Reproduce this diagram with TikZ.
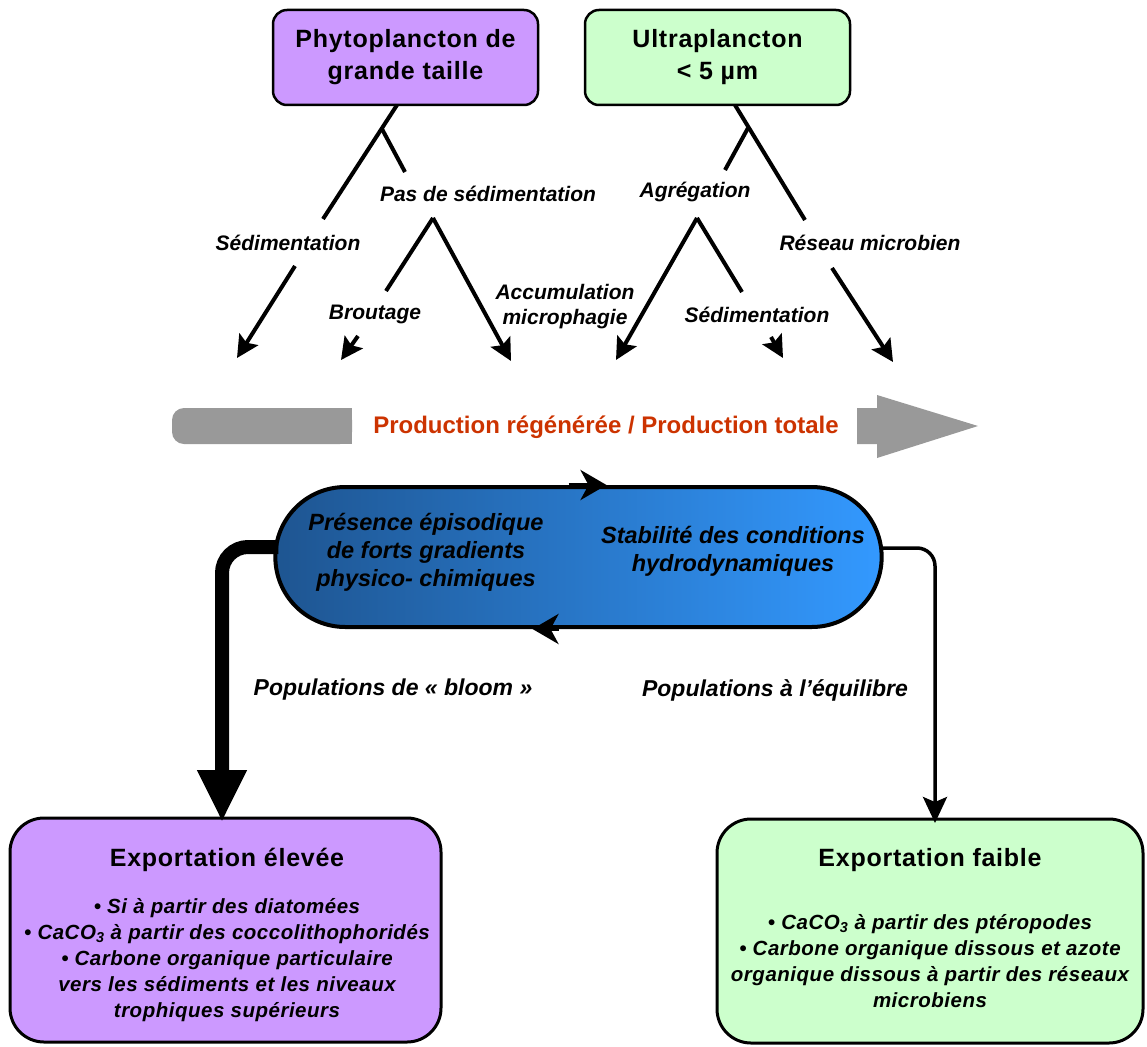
\documentclass[tikz,border=0pt]{standalone}
\usepackage{fontspec}
\setmainfont{Liberation Sans}
\usetikzlibrary{arrows.meta,shapes.misc,calc}
\definecolor{purp}{RGB}{204,153,255}
\definecolor{lgreen}{RGB}{204,255,204}
\definecolor{prodred}{RGB}{204,51,0}
\definecolor{bargray}{RGB}{153,153,153}
\definecolor{pillL}{RGB}{30,85,145}
\definecolor{pillR}{RGB}{51,153,255}
\begin{document}
\begin{tikzpicture}[x=1pt,y=-1pt,
  topbox/.style={draw=black, line width=2.5pt, rounded corners=14pt, minimum width=265pt, minimum height=95pt, align=center, font=\fontsize{25}{32}\selectfont\bfseries\addfontfeature{LetterSpace=3}},
  botbox/.style={draw=black, line width=3pt, rounded corners=34pt, minimum width=431pt, minimum height=224pt},
  lbl/.style={font=\fontsize{21}{25}\selectfont\bfseries\itshape, align=center, inner sep=0pt},
  poplbl/.style={font=\fontsize{23}{28}\selectfont\bfseries\itshape, inner sep=0pt},
  pilltxt/.style={font=\fontsize{23.5}{28}\selectfont\bfseries\itshape, align=center, inner sep=0pt},
  boxtitle/.style={font=\fontsize{25}{30}\selectfont\bfseries\addfontfeature{LetterSpace=3}, inner sep=0pt},
  bullets/.style={font=\fontsize{20.5}{26}\selectfont\bfseries\itshape\addfontfeature{LetterSpace=2.5}, align=center, inner sep=0pt},
  flow/.style={line width=4pt},
  flowarr/.style={line width=4pt, -{Stealth[length=22pt,width=22pt,inset=4pt]}},
  pillarr/.style={line width=4pt, -{Stealth[length=26pt,width=30pt,inset=8pt]}}
]
\useasboundingbox (0,0) rectangle (1147,1046);

% top boxes
\node[topbox, fill=purp] (phyto) at (405.5,57.5) {Phytoplancton de\\grande taille};
\node[topbox, fill=lgreen] (ultra) at (717.5,57.5) {Ultraplancton\\< 5 µm};

% labels
\node[lbl] (sedL) at (288,243) {Sédimentation};
\node[lbl] (pas) at (488,194) {Pas de sédimentation};
\node[lbl] (brout) at (375,314) {Broutage};
\node[lbl] (accu) at (565,307) {Accumulation\\microphagie};
\node[lbl] (agr) at (695,192) {Agrégation};
\node[lbl] (sedR) at (757,315) {Sédimentation};
\node[lbl] (reseau) at (870,243) {Réseau microbien};

% coordinates
\coordinate (a0) at (397,105);
\coordinate (a1) at (323,219);
\coordinate (a2) at (295,266);
\coordinate (a3) at (237,358);
\coordinate (ab) at (382,129);
\coordinate (ab2) at (405,172);
\coordinate (b0) at (433,218);
\coordinate (b1) at (386,291);
\coordinate (b2) at (358,336);
\coordinate (b3) at (341,360);
\coordinate (b4) at (511,361);
\coordinate (c0) at (735,105);
\coordinate (c1) at (805,220);
\coordinate (c2) at (832,268);
\coordinate (c3) at (893,362);
\coordinate (cb) at (748,128);
\coordinate (cb2) at (725,170);
\coordinate (d0) at (697,218);
\coordinate (d1) at (616,360);
\coordinate (d2) at (742,292);
\coordinate (d3) at (771,337);
\coordinate (d4) at (783,358);

% left tree
\draw[flow] (a0) -- (a1);
\draw[flowarr] (a2) -- (a3);
\draw[flow] (ab) -- (ab2);
\draw[flow] (b0) -- (b1);
\draw[flowarr] (b2) -- (b3);
\draw[flowarr] (b0) -- (b4);
% right tree
\draw[flow] (c0) -- (c1);
\draw[flowarr] (c2) -- (c3);
\draw[flow] (cb) -- (cb2);
\draw[flowarr] (d0) -- (d1);
\draw[flow] (d0) -- (d2);
\draw[flowarr] (d3) -- (d4);

% production bar
\fill[bargray, rounded corners=12pt] (172,408) rectangle (352,444);
\fill[bargray] (300,408) rectangle (352,444);
\fill[bargray] (857,408) -- (877,408) -- (877,395) -- (978,426) -- (877,458) -- (877,444) -- (857,444) -- cycle;
\node[font=\fontsize{24}{28}\selectfont\bfseries, text=prodred, inner sep=0pt] (prod) at (606,427) {Production régénérée / Production totale};

% pill
\node[rounded rectangle, draw=black, line width=4pt, minimum width=613pt, minimum height=140pt, left color=pillL, right color=pillR] (pill) at (578.5,557) {};
\draw[pillarr] ($(pill.north)+(-10,0)$) -- ($(pill.north)+(28,0)$);
\draw[pillarr] ($(pill.south)+(-20,0)$) -- ($(pill.south)+(-46,0)$);
\node[pilltxt] (pres) at (426,552) {Présence épisodique\\de forts gradients\\physico- chimiques};
\node[pilltxt] (stab) at (733,551) {Stabilité des conditions\\hydrodynamiques};

% bottom boxes
\node[botbox, fill=purp] (exphi) at (225.5,930) {};
\node[botbox, fill=lgreen, minimum width=426pt] (explo) at (930,931) {};

\node[boxtitle] (t1) at (227,860) {Exportation élevée};
\node[bullets] (l1) at (227,960) {• Si à partir des diatomées\\• CaCO\textsubscript{3} à partir des coccolithophoridés\\• Carbone organique particulaire\\vers les sédiments et les niveaux\\trophiques supérieurs};
\node[boxtitle] (t2) at (930,860) {Exportation faible};
\node[bullets] (l2) at (930,961) {• CaCO\textsubscript{3} à partir des ptéropodes\\• Carbone organique dissous et azote\\organique dissous à partir des réseaux\\microbiens};

% connectors from pill
\coordinate (lstart) at ($(pill.west)+(5,-10)$);
\coordinate (lend) at (222,822);
\draw[line width=14pt, rounded corners=26pt, -{Triangle[length=52pt,width=46pt]}] (lstart) -- (lend |- lstart) -- (lend);
\coordinate (rstart) at ($(pill.east)+(-2,-9)$);
\coordinate (rend) at (935,823);
\draw[line width=3.5pt, rounded corners=18pt, -{Stealth[length=26pt,width=24pt,inset=5pt]}] (rstart) -- (rend |- rstart) -- (rend);

\node[poplbl] (popb) at (393,690) {Populations de « bloom »};
\node[poplbl] (pope) at (775,690) {Populations à l’équilibre};
\end{tikzpicture}
\end{document}
